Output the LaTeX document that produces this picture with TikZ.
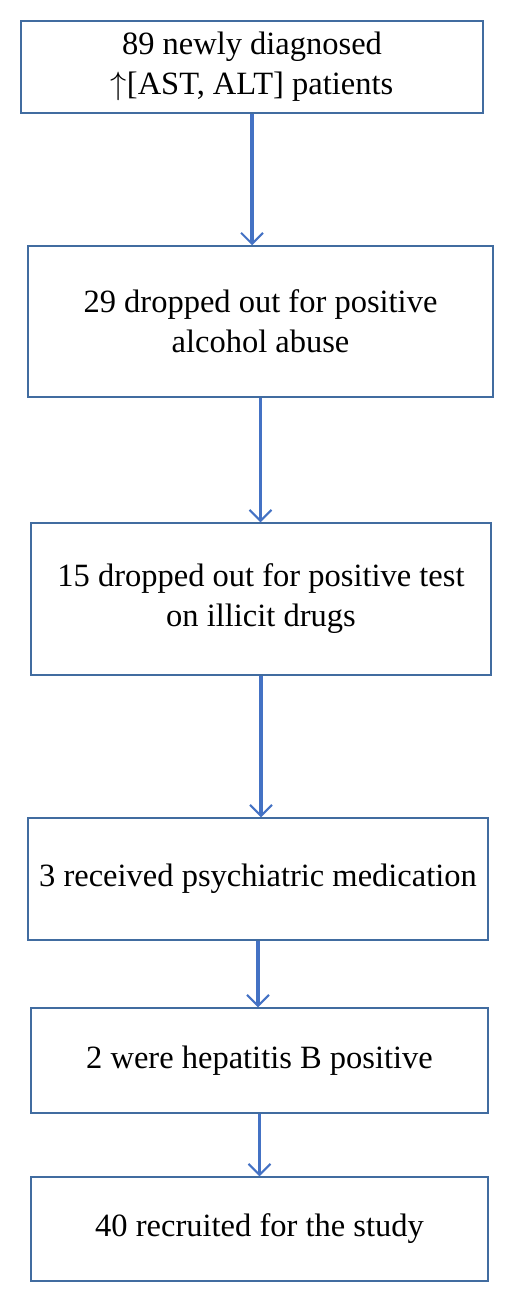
\documentclass[tikz,border=0pt]{standalone}
\usepackage{fontspec}
\setmainfont{Liberation Serif}
\usepackage{graphicx,xcolor}
\definecolor{boxblue}{RGB}{65,108,160}
\definecolor{arrblue}{RGB}{68,114,196}
\usetikzlibrary{arrows.meta,positioning}

\begin{document}
\begin{tikzpicture}[x=1pt, y=-1pt,
  stage/.style={rectangle, draw=boxblue, line width=1.5pt, fill=white,
                font=\fontsize{32.5}{40}\selectfont, align=center,
                inner sep=0pt},
  arr/.style={-{Straight Barb[length=11pt, width=22pt, line width=2pt]},
              line width=3.5pt, draw=arrblue}
]
\useasboundingbox (0,0) rectangle (515,1303);

% Stage 1: screened
\node[stage, minimum width=462pt, minimum height=92pt] (screened) at (252,67)
  {89 newly diagnosed\\ \scalebox{1.3}{\(\uparrow\)}[AST, ALT] patients};

% Stage 2: alcohol
\node[stage, minimum width=465pt, minimum height=151pt] (alcohol) at (260.5,321.5)
  {29 dropped out for positive\\ alcohol abuse};

% Stage 3: drugs
\node[stage, minimum width=460pt, minimum height=152pt] (drugs) at (261,599)
  {15 dropped out for positive test\\ on illicit drugs};

% Stage 4: medication
\node[stage, minimum width=460pt, minimum height=122pt] (medic) at (258,879)
  {3 received psychiatric medication};

% Stage 5: hepatitis
\node[stage, minimum width=457pt, minimum height=105pt] (hepat) at (259.5,1060.5)
  {2 were hepatitis B positive};

% Stage 6: recruited
\node[stage, minimum width=457pt, minimum height=104pt] (recruit) at (259.5,1229)
  {40 recruited for the study};

% Arrows
\draw[arr] (screened.south) -- (screened.south |- alcohol.north);
\draw[arr] (alcohol.south) -- (alcohol.south |- drugs.north);
\draw[arr] (drugs.south) -- (drugs.south |- medic.north);
\draw[arr] (medic.south) -- (medic.south |- hepat.north);
\draw[arr] (hepat.south) -- (hepat.south |- recruit.north);
\end{tikzpicture}
\end{document}
